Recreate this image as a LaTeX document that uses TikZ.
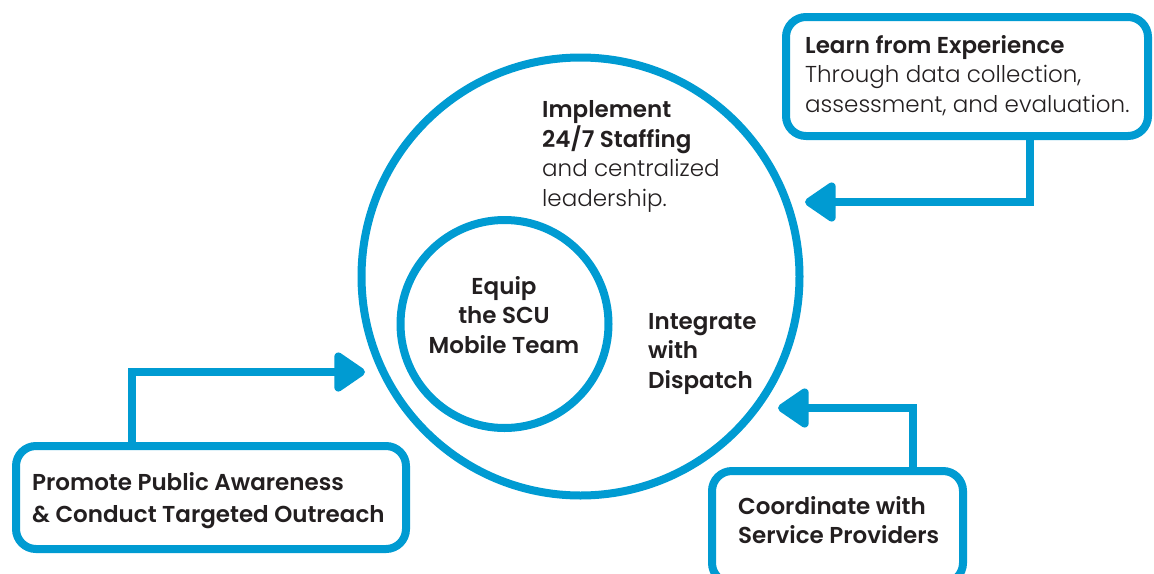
\documentclass[tikz,border=0pt]{standalone}
\usepackage{fontspec}
\setmainfont{Poppins}[UprightFont=* Light, BoldFont=* SemiBold]
\usetikzlibrary{arrows.meta}
\definecolor{cblue}{RGB}{0,155,210}
\definecolor{ctext}{RGB}{35,31,32}
\begin{document}
\begin{tikzpicture}[x=1pt,y=-1pt,
  ring/.style={circle,draw=cblue,line width=8pt,inner sep=0pt},
  card/.style={rectangle,draw=cblue,line width=8pt,rounded corners=20pt,fill=white,inner sep=0pt},
  conn/.style={draw=cblue,line width=8pt,-{Triangle[round,length=34pt,width=44pt]}},
  lbl/.style={inner sep=0pt,text=ctext,align=left,font=\fontsize{23}{29.5}\selectfont},
  lblc/.style={lbl,align=center}]
\useasboundingbox (0,0) rectangle (1154,573);
\fill[white] (0,0) rectangle (1154,573);
% circles
\node[ring,minimum size=438pt] (outer) at (580.5,276.5) {};
\node[ring,minimum size=208pt] (inner) at (504.5,324) {};
% boxes
\node[card,minimum width=362pt,minimum height=119pt] (tr) at (967,76.5) {};
\node[card,minimum width=390pt,minimum height=103pt] (bl) at (211,497.5) {};
\node[card,minimum width=251pt,minimum height=112pt] (br) at (837.5,527) {};
% connector anchors
\coordinate (kTR) at (1030,0);
\coordinate (tipTR) at (805,202);
\coordinate (kBL) at (132,0);
\coordinate (tipBL) at (365,372);
\coordinate (kBR) at (913,0);
\coordinate (tipBR) at (778,408);
\draw[conn] (tr.south -| kTR) |- (tipTR);
\draw[conn] (bl.north -| kBL) |- (tipBL);
\draw[conn] (br.north -| kBR) |- (tipBR);
% texts (base anchor = baseline of last line)
\node[lbl,anchor=base west] (tTR) at (805,112) {\textbf{Learn from Experience}\\Through data collection,\\assessment, and evaluation.};
\node[lbl,anchor=base west] (tImp) at (542,206) {\textbf{Implement}\\\textbf{24/7 Staffing}\\and centralized\\leadership.};
\node[lblc,anchor=base] (tEq) at (504,353) {\textbf{Equip}\\\textbf{the SCU}\\\textbf{Mobile Team}};
\node[lbl,anchor=base west] (tInt) at (648,388) {\textbf{Integrate}\\\textbf{with}\\\textbf{Dispatch}};
\node[lbl,anchor=base west,font=\fontsize{23}{32}\selectfont] (tBL) at (32,522) {\textbf{Promote Public Awareness}\\\textbf{\& Conduct Targeted Outreach}};
\node[lbl,anchor=base west,font=\fontsize{23}{28.5}\selectfont] (tBR) at (738,543) {\textbf{Coordinate with}\\\textbf{Service Providers}};
\end{tikzpicture}
\end{document}
